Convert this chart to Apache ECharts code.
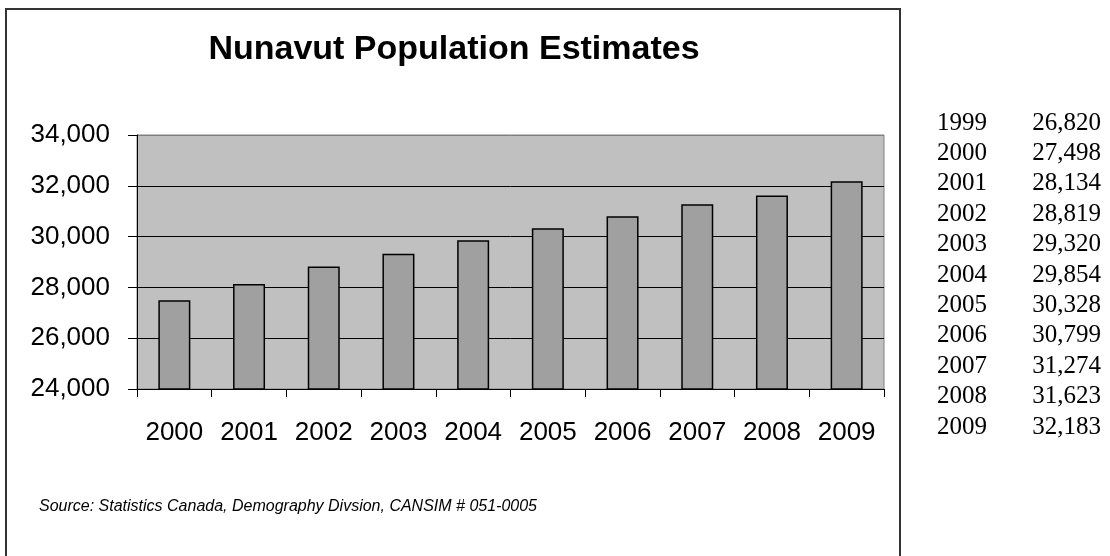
<!DOCTYPE html>
<html>
<head>
<meta charset="utf-8">
<script src="https://cdn.jsdelivr.net/npm/echarts@6/dist/echarts.min.js"></script>
<style>
  html, body { margin: 0; padding: 0; background: #fff; }
  #chart { width: 1110px; height: 556px; }
</style>
</head>
<body>
<div id="chart"></div>
<script>
// ---- data ----
var titleText = 'Nunavut Population Estimates';
var sourceText = 'Source: Statistics Canada, Demography Divsion, CANSIM # 051-0005';
var tableYears = ['1999', '2000', '2001', '2002', '2003', '2004', '2005', '2006', '2007', '2008', '2009'];
var tablePopulation = [26820, 27498, 28134, 28819, 29320, 29854, 30328, 30799, 31274, 31623, 32183];
var chartYears = ['2000', '2001', '2002', '2003', '2004', '2005', '2006', '2007', '2008', '2009'];
var chartPopulation = [27498, 28134, 28819, 29320, 29854, 30328, 30799, 31274, 31623, 32183];
var yTicks = [24000, 26000, 28000, 30000, 32000, 34000];

function fmt(v) { return String(v).replace(/\B(?=(\d{3})+(?!\d))/g, ','); }

var SANS = '"Liberation Sans", Arial, sans-serif';
var SERIF = '"Liberation Serif", "Times New Roman", serif';

var graphics = [
  { type: 'rect', shape: { x: 6, y: 9, width: 894, height: 600 },
    style: { fill: 'none', stroke: '#333', lineWidth: 2 }, z: 10 },
  { type: 'text', x: 454, y: 50,
    style: { text: titleText, font: 'bold 34px ' + SANS, fill: '#000',
             textAlign: 'center', textVerticalAlign: 'middle' } },
  { type: 'text', x: 39, y: 507,
    style: { text: sourceText, font: 'italic 16px ' + SANS, fill: '#000',
             textAlign: 'left', textVerticalAlign: 'middle' } }
];
for (var i = 0; i < tableYears.length; i++) {
  var yy = 123 + i * 30.4;
  graphics.push({ type: 'text', x: 937, y: yy,
    style: { text: tableYears[i], font: '25px ' + SERIF, fill: '#000',
             textAlign: 'left', textVerticalAlign: 'middle' } });
  graphics.push({ type: 'text', x: 1101, y: yy,
    style: { text: fmt(tablePopulation[i]), font: '25px ' + SERIF, fill: '#000',
             textAlign: 'right', textVerticalAlign: 'middle' } });
}

var chart = echarts.init(document.getElementById('chart'), null, { renderer: 'canvas' });
chart.setOption({
  animation: false,
  backgroundColor: '#fff',
  grid: { left: 137, right: 226, top: 135, bottom: 167, show: true,
          backgroundColor: '#C0C0C0', borderColor: '#808080', borderWidth: 1 },
  xAxis: {
    type: 'category', data: chartYears,
    axisLine: { show: true, lineStyle: { color: '#000', width: 1 } },
    axisTick: { show: true, alignWithLabel: false, length: 8, lineStyle: { color: '#000' } },
    axisLabel: { interval: 0, margin: 31, fontSize: 26, color: '#000', fontFamily: SANS },
    splitLine: { show: false }
  },
  yAxis: {
    type: 'value', min: yTicks[0], max: yTicks[yTicks.length - 1], interval: 2000,
    axisLine: { show: true, lineStyle: { color: '#000', width: 1 } },
    axisTick: { show: true, length: 9, lineStyle: { color: '#000' } },
    axisLabel: { margin: 27, fontSize: 26, color: '#000', fontFamily: SANS,
                 formatter: function (v) { return fmt(v); } },
    splitLine: { show: true, lineStyle: { color: ['#000', '#000', '#000', '#000', '#000', '#808080'], width: 1 } }
  },
  series: [{
    type: 'bar', data: chartPopulation, barWidth: 32,
    itemStyle: { color: '#A0A0A0', borderColor: '#000', borderWidth: 1.5 }
  }],
  graphic: graphics
});
</script>
</body>
</html>
